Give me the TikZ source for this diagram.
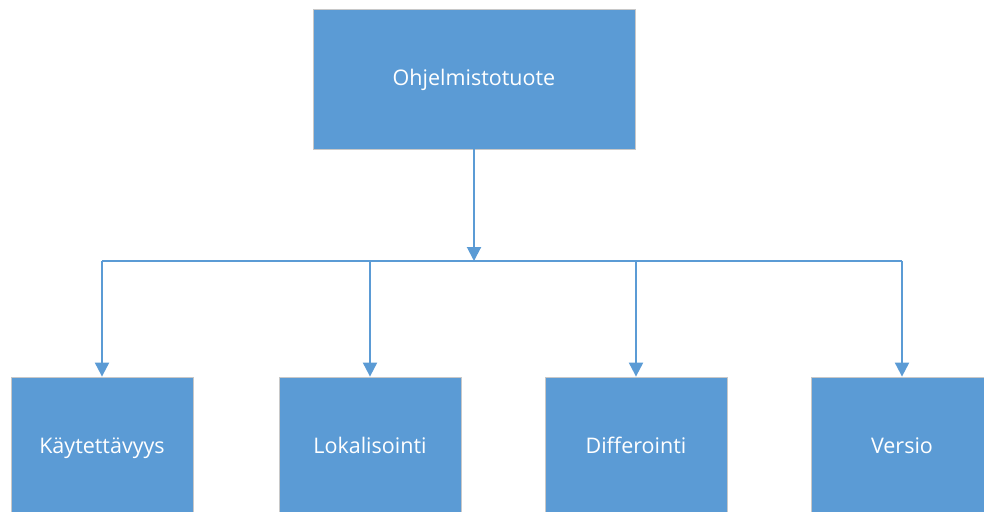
\documentclass[tikz,border=0pt]{standalone}
\usepackage{fontspec}
\setmainfont{Open Sans}
\usetikzlibrary{arrows.meta}
\definecolor{boxblue}{HTML}{5B9BD5}
\definecolor{boxedge}{HTML}{C8C8C8}
\begin{document}
\begin{tikzpicture}[x=1pt,y=-1pt,
  block/.style={draw=boxedge, line width=0.8pt, fill=boxblue, text=white,
    minimum width=182pt, text height=18pt, text depth=5pt,
    font=\fontsize{21.5}{25}\selectfont},
  link/.style={draw=boxblue, line width=2pt,
    -{Triangle[length=14pt,width=14pt]}}]
  \useasboundingbox (0,0) rectangle (984,511);
  % top-level product box
  \node[block, minimum width=322pt, minimum height=140pt] (top) at (474,79) {Ohjelmistotuote};
  % branching point on the horizontal bus
  \coordinate (hub) at (474,261);
  % child boxes, partly below the lower edge
  \node[block, minimum height=140pt] (c1) at (102,447) {Käytettävyys};
  \node[block, minimum height=140pt] (c2) at (370,447) {Lokalisointi};
  \node[block, minimum height=140pt] (c3) at (636,447) {Differointi};
  \node[block, minimum height=140pt] (c4) at (902,447) {Versio};
  % connectors
  \draw[link] (top.south) -- (hub);
  \draw[draw=boxblue, line width=2pt] (c1.north |- hub) -- (c4.north |- hub);
  \foreach \c in {c1,c2,c3,c4}
    \draw[link] (\c.north |- hub) -- (\c.north);
\end{tikzpicture}
\end{document}
